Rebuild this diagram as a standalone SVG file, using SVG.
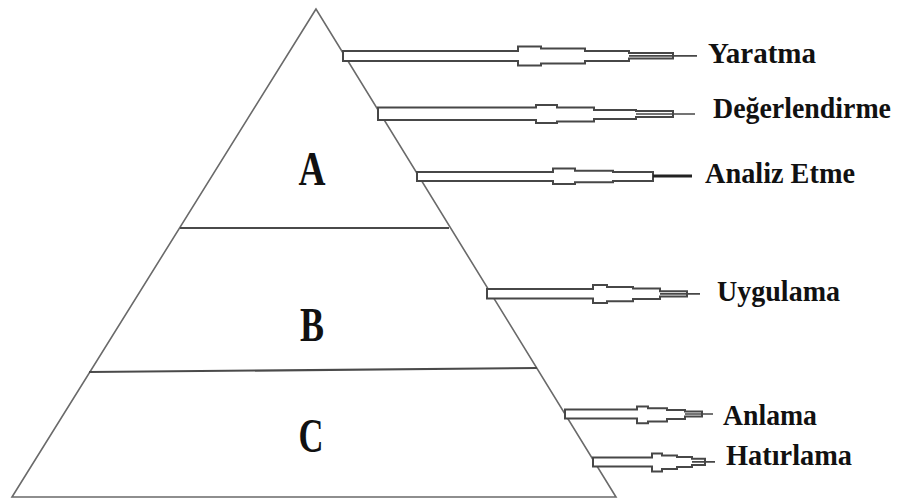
<svg xmlns="http://www.w3.org/2000/svg" width="904" height="502" viewBox="0 0 904 502">
<style>
.edge{fill:none;stroke:#6a6a6a;stroke-width:1.6}
.div{fill:none;stroke:#4a4a4a;stroke-width:2.2}
.arr{fill:#fff;stroke:#474747;stroke-width:2;stroke-linejoin:miter}
.ln{fill:none;stroke:#474747;stroke-width:1.7}
.big{font-family:"Liberation Serif","Times New Roman",serif;font-weight:bold;font-size:49px;fill:#111;text-anchor:middle}
.lbl{font-family:"Liberation Serif","Times New Roman",serif;font-weight:bold;font-size:30px;fill:#111}
</style>
<rect width="904" height="502" fill="#fff"/>
<g id="pyramid">
<polygon class="edge" points="316,9 12,497 616,497"/>
</g>
<g id="level-A">
<line class="div" x1="180" y1="228" x2="449" y2="228"/>
<text class="big" x="312" y="185" textLength="27" lengthAdjust="spacingAndGlyphs">A</text>
</g>
<g id="level-B">
<line class="div" x1="89" y1="372" x2="537" y2="368"/>
<text class="big" x="312" y="341" textLength="24" lengthAdjust="spacingAndGlyphs">B</text>
</g>
<g id="level-C">
<text class="big" x="311" y="452" textLength="25" lengthAdjust="spacingAndGlyphs">C</text>
</g>
<g id="connectors">
<path class="arr" d="M343,51 H518 V46.5 H541 V48.5 H585 V51 H629 V53 H673 V58.5 H629 V61 H585 V63.5 H541 V65.5 H518 V61 H343 Z"/>
<path class="ln" d="M629,55.8 H673 M673,55.8 H697"/>
<path class="arr" d="M378,107.5 H536 V105 H557 V107.5 H594 V110 H636 V111 H673 V117 H636 V119 H594 V121.5 H557 V123 H536 V120 H378 Z"/>
<path class="ln" d="M636,114 H673 M673,114 H695"/>
<path class="arr" d="M417,172 H553 V168.5 H575 V170.8 H613 V172 H653 V181 H613 V182.2 H575 V184 H553 V181 H417 Z"/>
<path d="M653,176 H692" fill="none" stroke="#222" stroke-width="3"/>
<path class="arr" d="M487,289 H593 V285 H607 V287 H633 V288.5 H660 V291.2 H687 V296.6 H660 V299 H633 V301.2 H607 V303 H593 V298.5 H487 Z"/>
<path class="ln" d="M660,293.9 H687 M687,293.9 H700"/>
<path class="arr" d="M565,409.5 H637 V406.5 H648 V408.3 H667 V410 H685 V411.6 H702 V416.6 H685 V419 H667 V421.5 H648 V423.3 H637 V418.5 H565 Z"/>
<path class="ln" d="M685,414 H702 M702,414 H713"/>
<path class="arr" d="M593,457.5 H652 V453.5 H662 V455.5 H677 V457 H692 V458.8 H705 V465 H692 V467 H677 V469 H662 V471.5 H652 V466.5 H593 Z"/>
<path class="ln" d="M692,461.9 H705 M705,461.9 H715"/>
</g>
<g id="label-yaratma"><text class="lbl" x="708" y="63" textLength="108" lengthAdjust="spacingAndGlyphs">Yaratma</text></g>
<g id="label-degerlendirme"><text class="lbl" x="713" y="118" textLength="178" lengthAdjust="spacingAndGlyphs">Değerlendirme</text></g>
<g id="label-analiz-etme"><text class="lbl" x="705" y="183" textLength="150" lengthAdjust="spacingAndGlyphs">Analiz Etme</text></g>
<g id="label-uygulama"><text class="lbl" x="717" y="301" textLength="123" lengthAdjust="spacingAndGlyphs">Uygulama</text></g>
<g id="label-anlama"><text class="lbl" x="723" y="425" textLength="94" lengthAdjust="spacingAndGlyphs">Anlama</text></g>
<g id="label-hatirlama"><text class="lbl" x="726" y="465" textLength="126" lengthAdjust="spacingAndGlyphs">Hatırlama</text></g>
</svg>
